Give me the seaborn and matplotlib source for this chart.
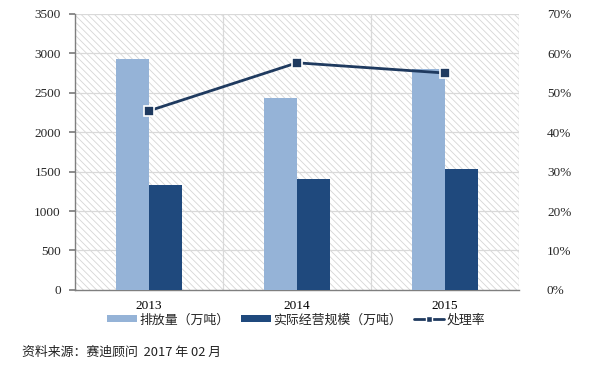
import numpy as np
import pandas as pd
import seaborn as sns
import matplotlib.pyplot as plt
from matplotlib.patches import Rectangle
from matplotlib.lines import Line2D
from matplotlib.patches import Patch

# data
years = ["2013", "2014", "2015"]
emission = [2930, 2430, 2800]          # 排放量（万吨）
capacity = [1330, 1400, 1530]          # 实际经营规模（万吨）
rate = [0.454, 0.576, 0.550]           # 处理率

light = "#95B3D7"
dark = "#1F497D"
line_c = "#1F3A5F"

sns.set_theme(style="white")
plt.rcParams["font.family"] = ["Liberation Serif", "Noto Sans CJK SC", "DejaVu Sans"]
plt.rcParams["hatch.linewidth"] = 0.6
plt.rcParams["hatch.color"] = "#D0D0D0"

df = pd.DataFrame({
    "year": years * 2,
    "value": emission + capacity,
    "series": ["排放量（万吨）"] * 3 + ["实际经营规模（万吨）"] * 3,
})

fig = plt.figure(figsize=(6.13, 3.66), dpi=100)
ax = fig.add_axes([0.122, 0.208, 0.725, 0.754])

# hatched background
ax.add_patch(Rectangle((0, 0), 1, 1, transform=ax.transAxes, facecolor="white",
                       edgecolor="#D6D6D6", hatch="\\\\\\\\\\", linewidth=0, zorder=0))

sns.barplot(data=df, x="year", y="value", hue="series", palette=[light, dark],
            width=0.45, gap=0, saturation=1, ax=ax, legend=False, zorder=3,
            linewidth=0, edgecolor="none")

ax.set_xlim(-0.5, 2.5)
ax.set_ylim(0, 3500)
ax.set_yticks(np.arange(0, 3501, 500))
for y in np.arange(500, 3501, 500):
    ax.axhline(y, color="#D9D9D9", lw=0.9, zorder=1)
for x in [0.5, 1.5, 2.5]:
    ax.axvline(x, color="#D9D9D9", lw=0.9, zorder=1)
ax.set_xlabel("")
ax.set_ylabel("")
for s in ["top", "right"]:
    ax.spines[s].set_visible(False)
for s in ["left", "bottom"]:
    ax.spines[s].set_color("#7F7F7F")
    ax.spines[s].set_linewidth(1.0)
ax.set_xticks([0, 1, 2])
ax.set_xticklabels(years)
ax.set_xticks([-0.5, 0.5, 1.5, 2.5], minor=True)
ax.tick_params(axis="x", which="major", length=0, pad=7, labelsize=9.5, colors="#000000")
ax.tick_params(axis="x", which="minor", length=4, color="#7F7F7F", direction="out")
ax.tick_params(axis="y", length=4, color="#7F7F7F", direction="out", labelsize=9.5,
               left=True, pad=6)

ax2 = ax.twinx()
sns.lineplot(x=np.arange(3), y=rate, ax=ax2, color=line_c, lw=2, marker="s",
             markersize=6.5, markerfacecolor=line_c, markeredgecolor="white",
             markeredgewidth=1.2, zorder=5)
ax2.set_ylim(0, 0.7)
ax2.set_yticks(np.arange(0, 0.71, 0.1))
ax2.set_yticklabels([f"{int(round(v * 100))}%" for v in np.arange(0, 0.71, 0.1)])
ax2.tick_params(axis="y", length=0, labelsize=9.5, pad=20, right=True)
for s in ["top", "right", "left", "bottom"]:
    ax2.spines[s].set_visible(False)

handles = [
    Patch(facecolor=light, edgecolor="none"),
    Patch(facecolor=dark, edgecolor="none"),
    Line2D([0], [0], color=line_c, lw=2, marker="s", markersize=5,
           markerfacecolor=line_c, markeredgecolor="white"),
]
labels = ["排放量（万吨）", "实际经营规模（万吨）", "处理率"]
fig.legend(handles, labels, loc="center", bbox_to_anchor=(0.483, 0.126), ncol=3,
           frameon=False, prop={"family": ["Noto Sans CJK SC"], "size": 9.3},
           handlelength=2.3, handleheight=0.45, columnspacing=0.9, handletextpad=0.2,
           borderpad=0, borderaxespad=0)

fig.text(0.036, 0.036, "资料来源：赛迪顾问  2017 年 02 月", fontsize=9.3, va="center",
         family=["Noto Sans CJK SC", "DejaVu Sans"], color="#222222")

fig.savefig("out.png", dpi=100)
